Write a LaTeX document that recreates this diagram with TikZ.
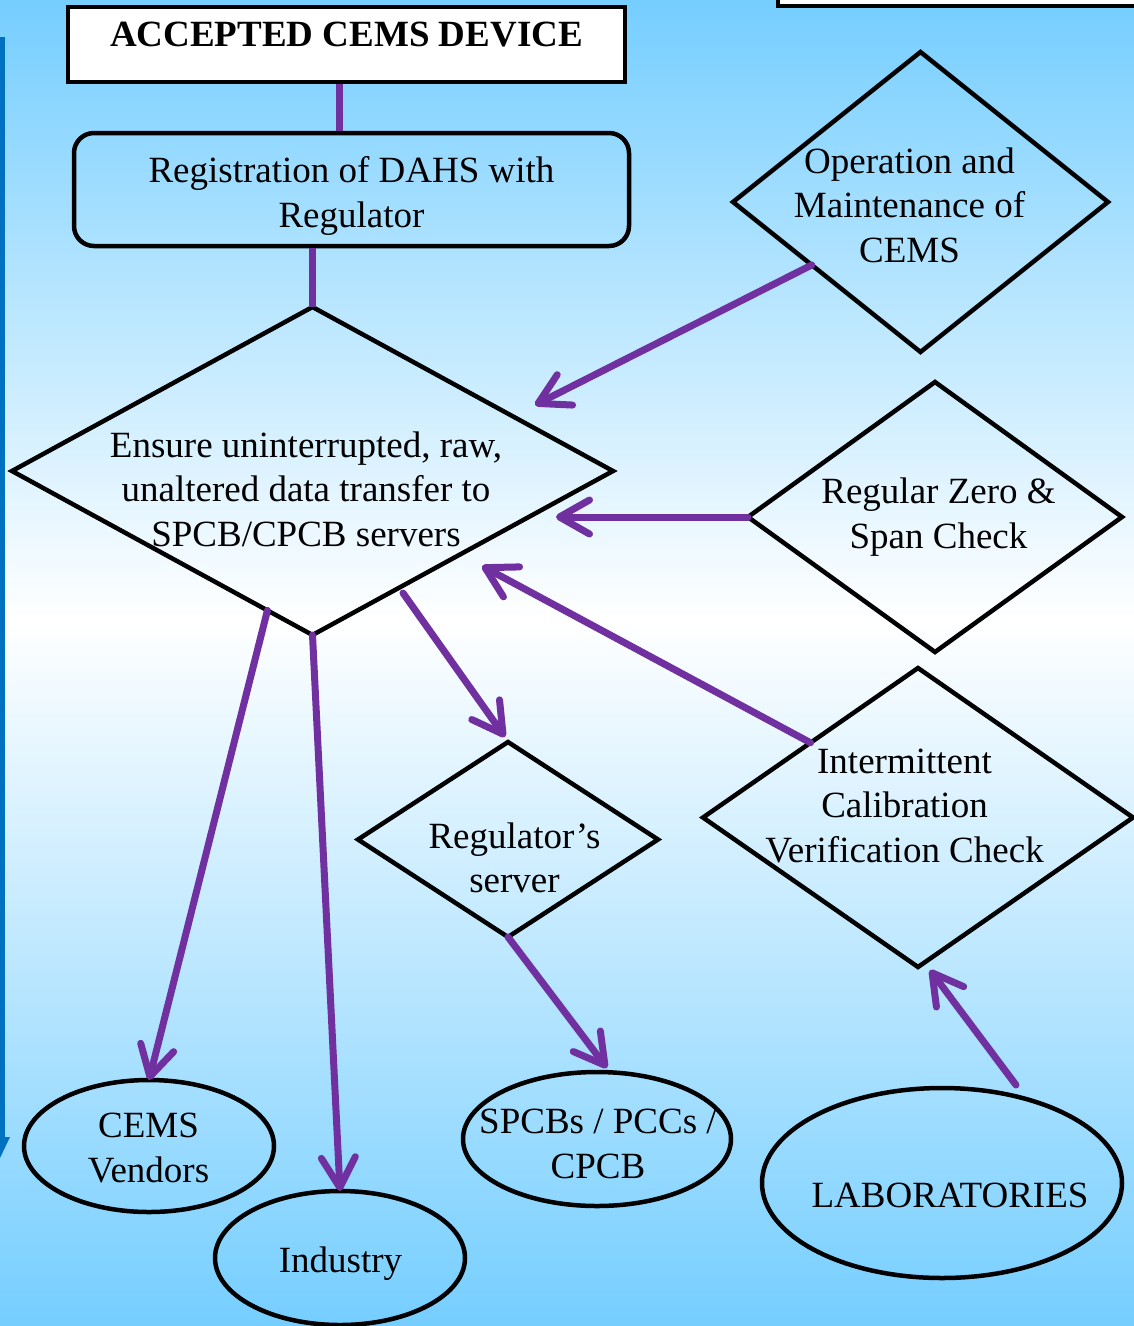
\documentclass[tikz,border=0pt]{standalone}
\usepackage{fontspec}
\setmainfont{Liberation Serif}
\usetikzlibrary{shapes.geometric,arrows.meta,calc}
\definecolor{bgblue}{RGB}{117,206,255}
\definecolor{purp}{RGB}{112,48,160}
\definecolor{barblue}{RGB}{0,112,192}
\begin{document}
\begin{tikzpicture}[x=1pt,y=-1pt,
  outline/.style={draw=black,line width=4.5pt},
  dia/.style={outline,diamond,inner sep=0pt,outer sep=0pt},
  ell/.style={outline,ellipse,inner sep=0pt,outer sep=0pt},
  lbl/.style={align=center,font=\fontsize{37}{44.5}\selectfont,inner sep=0pt},
  link/.style={draw=purp,line width=7pt},
  arr/.style={draw=purp,line width=7pt,line cap=round,-{Straight Barb[length=30pt,width=34pt,round]}}]
\useasboundingbox (0,0) rectangle (1134,1326);
\clip (0,0) rectangle (1134,1326);
% background
\shade[top color=bgblue,bottom color=white] (0,0) rectangle (1134,620);
\shade[top color=white,bottom color=bgblue] (0,619) rectangle (1134,1326);
% left blue bar with arrow tip
\coordinate (barTop) at (2,37);
\coordinate (barEnd) at (2,1140);
\draw[barblue,line width=5pt] (barTop) -- (barEnd);
\fill[barblue] (-10,1137) -- (10,1137) -- (0,1158) -- cycle;
% top-right partial box
\draw[outline,fill=white] (778,-30) rectangle (1150,6);

% nodes
\node[outline,fill=white,rectangle,inner sep=0pt,minimum width=557pt,minimum height=75pt] (acc) at (346.5,44.5) {};
\node[lbl,font=\fontsize{37}{44.5}\selectfont\bfseries] (accT) at (346.5,35) {ACCEPTED CEMS DEVICE};

\node[outline,rectangle,rounded corners=20pt,inner sep=0pt,minimum width=555pt,minimum height=113pt] (reg) at (351.5,189.5) {};
\node[lbl] (regT) at (351.5,196) {Registration of DAHS with\\Regulator};

\node[dia,minimum width=601pt,minimum height=328pt] (big) at (312.5,471) {};
\node[lbl] (bigT) at (306,489) {Ensure uninterrupted, raw,\\unaltered data transfer to\\SPCB/CPCB servers};

\node[dia,minimum width=375pt,minimum height=300pt] (ops) at (920.5,202) {};
\node[lbl] (opsT) at (909.5,205) {Operation and\\Maintenance of\\CEMS};

\node[dia,minimum width=374pt,minimum height=270pt] (zero) at (935,517) {};
\node[lbl] (zeroT) at (938.5,517) {Regular Zero \&\\Span Check};

\node[dia,minimum width=300pt,minimum height=195pt] (regs) at (508,839.5) {};
\node[lbl] (regsT) at (514.5,858) {Regulator’s\\server};

\node[dia,minimum width=430pt,minimum height=299pt] (inter) at (918,817.5) {};
\node[lbl] (interT) at (904.5,806) {Intermittent\\Calibration\\Verification Check};

\node[ell,minimum width=250pt,minimum height=132pt] (cems) at (149,1146) {};
\node[lbl] (cemsT) at (148.5,1148) {CEMS\\Vendors};

\node[ell,minimum width=250pt,minimum height=134pt] (ind) at (340,1258) {};
\node[lbl] (indT) at (340.5,1264) {Industry};

\node[ell,minimum width=268pt,minimum height=134pt] (spcb) at (597,1139) {};
\node[lbl] (spcbT) at (598,1144) {SPCBs / PCCs /\\CPCB};

\node[ell,minimum width=360pt,minimum height=190pt] (lab) at (942,1183) {};
\node[lbl] (labT) at (950,1195) {LABORATORIES};

% connector end points
\coordinate (tipOps) at (535,405);
\coordinate (tipZero) at (556,517);
\coordinate (tipInter) at (482,566);
\coordinate (startRegs) at (403,593);
\coordinate (tipRegs) at (505,737);
\coordinate (tipSpcb) at (607,1068);
\coordinate (startLab) at (1016,1085);
\coordinate (tipLab) at (930,970);

% connectors
\draw[link] ([xshift=-7.5pt]acc.south) -- ([xshift=-7.5pt]acc.south |- reg.north);
\draw[link] (big.north |- reg.south) -- (big.north);
\draw[arr] ($(ops.west)!0.42!(ops.south)$) -- (tipOps);
\draw[arr] (zero.west) -- (tipZero);
\draw[arr] ($(inter.north)!0.5!(inter.west)$) -- (tipInter);
\draw[arr] (startRegs) -- (tipRegs);
\draw[arr] ($(big.west)!0.85!(big.south)$) -- (cems.north);
\draw[arr] (big.south) -- (ind.north);
\draw[arr] (regs.south) -- (tipSpcb);
\draw[arr] (startLab) -- (tipLab);
\end{tikzpicture}
\end{document}
